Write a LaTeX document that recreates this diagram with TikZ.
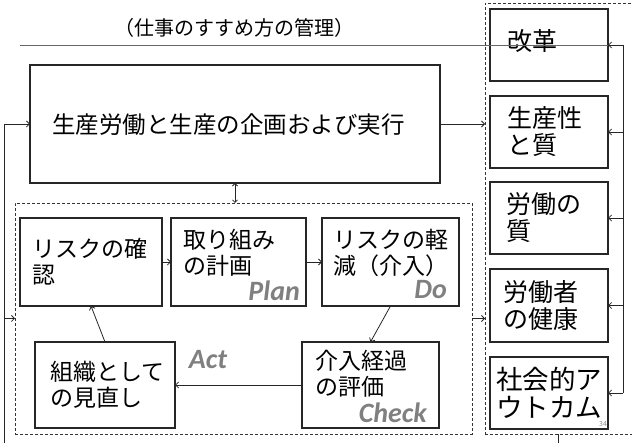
\documentclass[tikz,border=0pt]{standalone}
\usepackage{fontspec}
\setmainfont{Noto Sans CJK JP}
\newfontfamily\pdcafont{Carlito}
\usetikzlibrary{arrows.meta,calc}
\tikzset{
  box/.style={draw=black!85, line width=1.1pt, inner sep=0pt, outer sep=0pt},
  dbox/.style={draw=black!80, dash pattern=on 3pt off 2pt, line width=0.8pt, inner sep=0pt, outer sep=0pt},
  arr/.style={-{Straight Barb[length=3pt,width=6pt]}, line width=0.8pt, draw=black!85},
  darr/.style={{Straight Barb[length=2.5pt,width=5pt]}-{Straight Barb[length=2.5pt,width=5pt]}, line width=0.8pt, draw=black!85},
  line/.style={line width=0.8pt, draw=black!85},
  jt/.style={font=\fontsize{23}{26}\selectfont, align=left, inner sep=0pt, text=black},
  rt/.style={font=\fontsize{25}{27}\selectfont, align=left, inner sep=0pt, anchor=west, text=black},
  pdcalab/.style={font=\pdcafont\bfseries\itshape\fontsize{28}{28}\selectfont, text=black!50, inner sep=0pt},
}
\begin{document}
\begin{tikzpicture}[x=1pt,y=-1pt]
\useasboundingbox (0,0) rectangle (632,443);
% title and top line
\node[font=\fontsize{20}{20}\selectfont, inner sep=0pt] (title) at (234,28) {（仕事のすすめ方の管理）};
% main box
\node[box, minimum width=410pt, minimum height=118pt] (main) at (235,124) {};
\node[font=\fontsize{23.5}{26}\selectfont, inner sep=0pt, anchor=west] (maintext) at (52,125) {生産労働と生産の企画および実行};
% PDCA dashed frame
\node[dbox, minimum width=457pt, minimum height=231pt] (pdca) at (243.5,318.5) {};
\node[box, minimum width=142pt, minimum height=88pt] (b1) at (91,262) {};
\node[box, minimum width=135pt, minimum height=88pt] (b2) at (238.5,262) {};
\node[box, minimum width=137pt, minimum height=88pt] (b3) at (390.5,262) {};
\node[box, minimum width=137pt, minimum height=86pt] (b4) at (370.5,385) {};
\node[box, minimum width=140pt, minimum height=86pt] (b5) at (105,385) {};
\node[jt, anchor=west] (t1) at ($(b1.west)+(12,0)$) {リスクの確\\認};
\node[jt, anchor=north west] (t2) at ($(b2.north west)+(12,11)$) {取り組み\\の計画};
\node[jt, anchor=north west] (t3) at ($(b3.north west)+(11,11)$) {リスクの軽\\減（介入）};
\node[jt, anchor=north west] (t4) at ($(b4.north west)+(13,8)$) {介入経過\\の評価};
\node[jt, anchor=west] (t5) at ($(b5.west)+(15,0)$) {組織として\\の見直し};
\node[pdcalab, anchor=south east] (plan) at ($(b2.south east)+(-6,-5)$) {Plan};
\node[pdcalab, anchor=south east] (do) at ($(b3.south east)+(-12,-7)$) {Do};
\node[pdcalab, anchor=south east] (check) at ($(b4.south east)+(-12,-5)$) {Check};
\node[pdcalab] (act) at (208,360) {Act};
% right dashed frame
\node[dbox, minimum width=175pt, minimum height=431pt] (rdash) at (572.5,218.5) {};
\node[box, minimum width=118pt, minimum height=72pt] (r1) at (549,45) {};
\node[box, minimum width=118pt, minimum height=72pt] (r2) at (549,132) {};
\node[box, minimum width=118pt, minimum height=72pt] (r3) at (549,218) {};
\node[box, minimum width=118pt, minimum height=73pt] (r4) at (549,305.5) {};
\node[box, minimum width=118pt, minimum height=72pt] (r5) at (549,393) {};
\node[rt] (rt1) at ($(r1.west)+(17,-4)$) {改革};
\node[rt] (rt2) at ($(r2.west)+(17,0)$) {生産性\\と質};
\node[rt] (rt3) at ($(r3.west)+(16,0)$) {労働の\\質};
\node[rt] (rt4) at ($(r4.west)+(13,0)$) {労働者\\の健康};
\node[rt, font=\fontsize{26.5}{28}\selectfont] (rt5) at ($(r5.west)+(6,0)$) {社会的ア\\ウトカム};
\node[font=\fontsize{7}{7}\selectfont, text=black!45, inner sep=0pt] (pg) at (603,424) {34};
% top rule
\coordinate (tl) at (20,45);
\draw[line width=0.6pt, draw=black!60] (tl) -- (r1.east);
% connectors
\draw[arr] (b1.east) -- (b2.west);
\draw[arr] (b2.east) -- (b3.west);
\draw[arr] (b3.south) -- (b4.north);
\draw[arr] (b4.west) -- (b5.east);
\draw[arr] (b5.north) -- (b1.south);
\draw[arr] (main.east) -- (main.east -| rdash.west);
\draw[arr] (pdca.east) -- (pdca.east -| rdash.west);
\draw[darr] (main.south) -- (main.south |- pdca.north);
% left feedback
\coordinate (lb) at (4,443);
\draw[arr] (lb) |- (main.west);
\draw[arr] (lb |- pdca.west) -- (pdca.west);
% right feedback
\coordinate (rl) at (623,0);
\draw[line] (rl |- r1.east) -- (rl |- r5.east);
\foreach \r in {r1,r2,r3,r4,r5} { \draw[arr] (rl |- \r.east) -- (\r.east); }
% bottom tick
\coordinate (bt) at (558,443);
\draw[line] (bt) -- (bt |- rdash.south);
\end{tikzpicture}
\end{document}
